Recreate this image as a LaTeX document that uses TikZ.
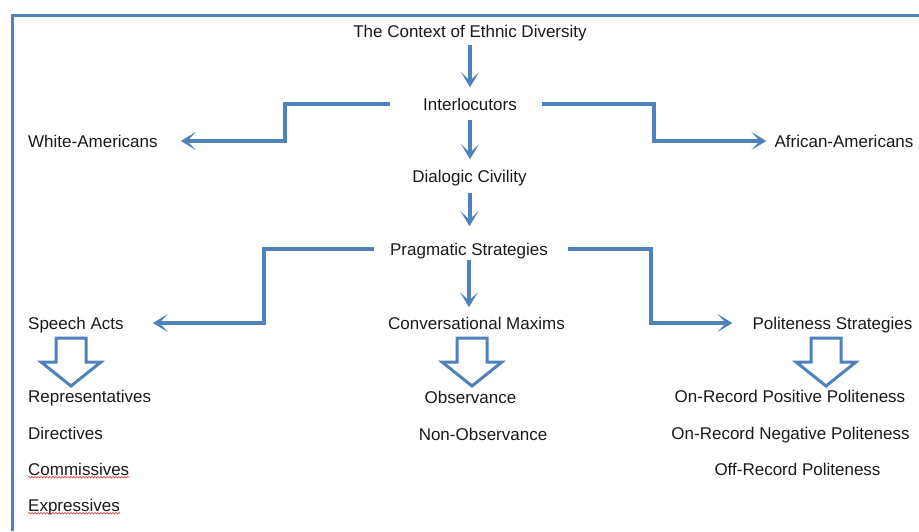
\documentclass[tikz,border=0pt]{standalone}
\usepackage{fontspec}
\setmainfont{Liberation Sans}
\usetikzlibrary{arrows.meta,decorations.pathmorphing}
\definecolor{wblue}{HTML}{4F81BD}
\definecolor{spell}{HTML}{E03030}
\begin{document}
\begin{tikzpicture}[x=1pt,y=-1pt,
  txt/.style={inner sep=0pt, text height=12pt, text depth=0pt,
    font=\fontsize{17}{20}\selectfont, text=black!90},
  conn/.style={draw=wblue, line width=4pt,
    -{Stealth[length=15pt,width=18pt,inset=8.5pt]}},
  frame/.style={draw=wblue, line width=3pt},
  blk/.pic={\draw[wblue, line width=3pt, line join=miter]
    (-15,0) -- (15,0) -- (15,24) -- (30,24) -- (0,48) -- (-30,24) -- (-15,24) -- cycle;},
  wavy/.style={draw=spell, line width=0.6pt, decorate,
    decoration={snake, amplitude=0.7pt, segment length=3pt}}]
\useasboundingbox (0,0) rectangle (919,531);
\draw[frame] (12,531) -- (12,15) -- (919,15);

% nodes
\node[txt] (ctx) at (470,31) {The Context of Ethnic Diversity};
\node[txt] (inter) at (470,104) {Interlocutors};
\node[txt, anchor=west] (white) at (28,141) {White-Americans};
\node[txt] (african) at (844,141) {African-Americans};
\node[txt] (dial) at (469.5,176) {Dialogic Civility};
\node[txt] (prag) at (469,249) {Pragmatic Strategies};
\node[txt, anchor=west] (speech) at (28,323) {Speech Acts};
\node[txt] (conv) at (476.5,323.5) {Conversational Maxims};
\node[txt] (polite) at (832.5,323) {Politeness Strategies};
\node[txt, anchor=west] (rep) at (28,396.5) {Representatives};
\node[txt, anchor=west] (dir) at (28,433) {Directives};
\node[txt, anchor=west] (comm) at (28,469) {Commissives};
\node[txt, anchor=west] (expr) at (28,505) {Expressives};
\node[txt] (obs) at (470.5,397) {Observance};
\node[txt] (nonobs) at (483,434) {Non-Observance};
\node[txt] (pos) at (790,396.5) {On-Record Positive Politeness};
\node[txt] (neg) at (790.5,433.5) {On-Record Negative Politeness};
\node[txt] (off) at (797.5,469) {Off-Record Politeness};

% vertical connectors
\draw[conn] ([yshift=-8pt]ctx.south) -- ++(0,42);
\draw[conn] ([yshift=-10pt]inter.south) -- ++(0,39);
\draw[conn] ([yshift=-11pt]dial.south) -- ++(0,33);
\draw[conn] ([yshift=-5pt]prag.south) -- ++(0,47);

% elbow connectors
\draw[conn, line join=miter] ([xshift=-33pt]inter.west) -- ++(-105,0) |- ([xshift=23pt]white.east);
\draw[conn, line join=miter] ([xshift=25pt]inter.east) -- ++(112,0) |- ([xshift=-8pt]african.west);
\draw[conn, line join=miter] ([xshift=-16pt]prag.west) -- ++(-110,0) |- ([xshift=29pt]speech.east);
\draw[conn, line join=miter] ([xshift=20pt]prag.east) -- ++(83,0) |- ([xshift=-20pt]polite.west);

% block arrows
\pic at (71,338) {blk};
\pic at (472,338) {blk};
\pic at (826,338) {blk};

% spelling underlines
\draw[wavy] ([yshift=-2pt]comm.south west) -- ([yshift=-2pt]comm.south east);
\draw[wavy] ([yshift=-2pt]expr.south west) -- ([yshift=-2pt]expr.south east);
\end{tikzpicture}
\end{document}
